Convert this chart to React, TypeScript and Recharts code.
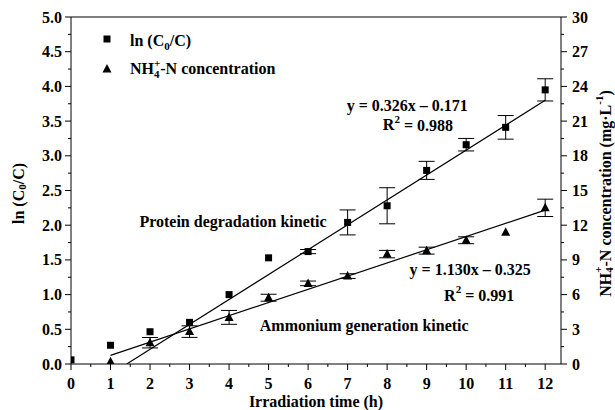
import React from 'react';
import {
  ComposedChart,
  XAxis,
  YAxis,
  Scatter,
  Line,
  ErrorBar,
  ReferenceLine,
  ReferenceDot,
  Legend,
} from 'recharts';

// ---------- data ----------
const timeH = [0, 1, 2, 3, 4, 5, 6, 7, 8, 9, 10, 11, 12];
const lnRatio = [0.06, 0.27, 0.465, 0.6, 1.0, 1.53, 1.62, 2.04, 2.28, 2.79, 3.16, 3.41, 3.95];
const lnRatioErr = [0, 0, 0, 0, 0, 0, 0.03, 0.18, 0.26, 0.13, 0.09, 0.17, 0.16];

const nh4Time = [1, 2, 3, 4, 5, 6, 7, 8, 9, 10, 11, 12];
const nh4Conc = [0.2, 1.84, 2.8, 4.03, 5.73, 6.97, 7.6, 9.5, 9.8, 10.7, 11.4, 13.5];
const nh4Err = [0, 0.45, 0.5, 0.6, 0.3, 0.2, 0.2, 0.32, 0.3, 0.3, 0, 0.75];

const proteinFitX = [1.41, 12];
const proteinFitY = [0, 3.8];
const ammoniumFitX = [1, 12];
const ammoniumFitY = [0.75, 13.3];

const xMajor = [0, 1, 2, 3, 4, 5, 6, 7, 8, 9, 10, 11, 12];
const leftMajor = [0, 0.5, 1, 1.5, 2, 2.5, 3, 3.5, 4, 4.5, 5];
const rightMajor = [0, 3, 6, 9, 12, 15, 18, 21, 24, 27, 30];

// annotations (data coordinates on left axis)
const annoX = [8.51, 8.78, 4.1, 7.42, 10.1, 10.33];
const annoY = [3.73, 3.45, 2.06, 0.56, 1.36, 0.99];

// ---------- derived tables ----------
const withMinor = (major: number[]) => {
  const out: number[] = [];
  major.forEach((v, i) => {
    out.push(v);
    if (i < major.length - 1) out.push((v + major[i + 1]) / 2);
  });
  return out;
};
const xTicks = withMinor(xMajor);
const leftTicks = withMinor(leftMajor);
const rightTicks = withMinor(rightMajor);

const lnData = timeH.map((x, i) => ({ x, y: lnRatio[i], err: lnRatioErr[i] }));
const nh4Data = nh4Time.map((x, i) => ({ x, y: nh4Conc[i], err: nh4Err[i] }));
const proteinFit = proteinFitX.map((x, i) => ({ x, y: proteinFitY[i] }));
const ammoniumFit = ammoniumFitX.map((x, i) => ({ x, y: ammoniumFitY[i] }));

const FONT = '"Liberation Serif", "Times New Roman", Times, serif';
const FS = 16;
const isMajor = (list: number[], v: number) => list.some((m) => Math.abs(m - v) < 1e-9);

// ---------- ticks ----------
const XTick = (p: any) => {
  const { x, y, payload } = p;
  const v = payload.value;
  const major = isMajor(xMajor, v);
  return (
    <g>
      <line x1={x} x2={x} y1={y} y2={y + (major ? 6 : 3)} stroke="#000" strokeWidth={1} />
      {major && (
        <text x={x} y={y + 19} textAnchor="middle" dominantBaseline="central" fontFamily={FONT} fontWeight="bold" fontSize={FS} fill="#000">
          {v}
        </text>
      )}
    </g>
  );
};

const LeftTick = (p: any) => {
  const { x, y, payload } = p;
  const v = payload.value;
  const major = isMajor(leftMajor, v);
  return (
    <g>
      <line x1={x} x2={x - (major ? 6 : 3)} y1={y} y2={y} stroke="#000" strokeWidth={1} />
      {major && (
        <text x={x - 9} y={y} textAnchor="end" dominantBaseline="central" fontFamily={FONT} fontWeight="bold" fontSize={FS} fill="#000">
          {v.toFixed(1)}
        </text>
      )}
    </g>
  );
};

const RightTick = (p: any) => {
  const { x, y, payload } = p;
  const v = payload.value;
  const major = isMajor(rightMajor, v);
  return (
    <g>
      <line x1={x} x2={x + (major ? 6 : 3)} y1={y} y2={y} stroke="#000" strokeWidth={1} />
      {major && (
        <text x={x + 11} y={y} textAnchor="start" dominantBaseline="central" fontFamily={FONT} fontWeight="bold" fontSize={FS} fill="#000">
          {v}
        </text>
      )}
    </g>
  );
};

// ---------- markers ----------
const SquareShape = (p: any) => {
  const { cx, cy } = p;
  if (cx == null || cy == null) return <g />;
  return <rect x={cx - 3.5} y={cy - 3.5} width={7} height={7} fill="#000" />;
};
const TriangleShape = (p: any) => {
  const { cx, cy } = p;
  if (cx == null || cy == null) return <g />;
  return <polygon points={`${cx},${cy - 5} ${cx - 4.5},${cy + 3.5} ${cx + 4.5},${cy + 3.5}`} fill="#000" />;
};

// ---------- labels ----------
const textProps = {
  fontFamily: FONT,
  fontWeight: 'bold' as const,
  fontSize: FS,
  fill: '#000',
};

const LeftAxisLabel = (p: any) => {
  const vb = p.viewBox || { x: 0, y: 17, width: 71, height: 347 };
  const cx = vb.x + 18;
  const cy = vb.y + vb.height / 2 + 3;
  return (
    <text {...textProps} x={cx} y={cy} textAnchor="middle" dominantBaseline="central" transform={`rotate(-90, ${cx}, ${cy})`}>
      ln (C<tspan dy={4} fontSize={11}>0</tspan>
      <tspan dy={-4}>/C)</tspan>
    </text>
  );
};

const RightAxisLabel = (p: any) => {
  const vb = p.viewBox || { x: 561, y: 17, width: 54, height: 347 };
  const cx = vb.x + 44;
  const cy = vb.y + vb.height / 2 + 3;
  return (
    <text {...textProps} x={cx} y={cy} textAnchor="middle" dominantBaseline="central" transform={`rotate(-90, ${cx}, ${cy})`}>
      NH<tspan dy={4} fontSize={11}>4</tspan>
      <tspan dx={-5.5} dy={-11} fontSize={11}>+</tspan>
      <tspan dy={7}>-N concentration (mg·L</tspan>
      <tspan dy={-6} fontSize={11}>-1</tspan>
      <tspan dy={6}>)</tspan>
    </text>
  );
};

const XAxisLabel = (p: any) => {
  const vb = p.viewBox || { x: 71, y: 364, width: 490, height: 46 };
  return (
    <text {...textProps} x={vb.x + vb.width / 2} y={vb.y + 37} textAnchor="middle" dominantBaseline="central">
      Irradiation time (h)
    </text>
  );
};

const annoContent: React.ReactNode[] = [
  <>y = 0.326x – 0.171</>,
  <>
    R<tspan dy={-6} fontSize={11}>2</tspan>
    <tspan dy={6}> = 0.988</tspan>
  </>,
  <>Protein degradation kinetic</>,
  <>Ammonium generation kinetic</>,
  <>y = 1.130x – 0.325</>,
  <>
    R<tspan dy={-6} fontSize={11}>2</tspan>
    <tspan dy={6}> = 0.991</tspan>
  </>,
];

const makeAnnoShape = (i: number) => (p: any) => (
  <text {...textProps} x={p.cx} y={p.cy} textAnchor="middle" dominantBaseline="central">
    {annoContent[i]}
  </text>
);

const LegendContent = () => (
  <svg width={230} height={56} style={{ display: 'block', overflow: 'visible' }}>
    <rect x={8.5} y={10.5} width={7} height={7} fill="#000" />
    <text {...textProps} x={35} y={21}>
      ln (C<tspan dy={4} fontSize={11}>0</tspan>
      <tspan dy={-4}>/C)</tspan>
    </text>
    <polygon points="12,39 7.5,47.5 16.5,47.5" fill="#000" />
    <text {...textProps} x={35} y={49}>
      NH<tspan dy={4} fontSize={11}>4</tspan>
      <tspan dx={-5.5} dy={-11} fontSize={11}>+</tspan>
      <tspan dy={7}>-N concentration</tspan>
    </text>
  </svg>
);

export default function App() {
  return (
    <div style={{ position: 'absolute', left: 0, top: 0, width: 615, height: 410, background: '#fff' }}>
      <ComposedChart width={615} height={410} margin={{ top: 17, right: 0, bottom: 0, left: 0 }}>
        <XAxis
          xAxisId="x"
          type="number"
          dataKey="x"
          domain={[0, 12.4]}
          ticks={xTicks}
          interval={0}
          allowDataOverflow
          height={46}
          tickSize={0}
          tickMargin={0}
          tick={<XTick />}
          axisLine={{ stroke: '#000', strokeWidth: 1 }}
          tickLine={false}
          label={{ content: <XAxisLabel /> } as any}
        />
        <YAxis
          yAxisId="left"
          orientation="left"
          type="number"
          domain={[0, 5]}
          ticks={leftTicks}
          interval={0}
          allowDataOverflow
          width={71}
          tickSize={0}
          tickMargin={0}
          tick={<LeftTick />}
          axisLine={{ stroke: '#000', strokeWidth: 1 }}
          tickLine={false}
          label={{ content: <LeftAxisLabel /> } as any}
        />
        <YAxis
          yAxisId="right"
          orientation="right"
          type="number"
          domain={[0, 30]}
          ticks={rightTicks}
          interval={0}
          allowDataOverflow
          width={54}
          tickSize={0}
          tickMargin={0}
          tick={<RightTick />}
          axisLine={{ stroke: '#000', strokeWidth: 1 }}
          tickLine={false}
          label={{ content: <RightAxisLabel /> } as any}
        />
        <ReferenceLine xAxisId="x" yAxisId="left" y={5} stroke="#000" strokeWidth={1} />

        <Line
          xAxisId="x"
          yAxisId="left"
          data={proteinFit}
          dataKey="y"
          type="linear"
          stroke="#000"
          strokeWidth={1.2}
          dot={false}
          activeDot={false}
          isAnimationActive={false}
          legendType="none"
        />
        <Line
          xAxisId="x"
          yAxisId="right"
          data={ammoniumFit}
          dataKey="y"
          type="linear"
          stroke="#000"
          strokeWidth={1.2}
          dot={false}
          activeDot={false}
          isAnimationActive={false}
          legendType="none"
        />

        <Scatter
          name="ln (C0/C)"
          xAxisId="x"
          yAxisId="left"
          data={lnData}
          dataKey="y"
          shape={<SquareShape />}
          isAnimationActive={false}
        >
          <ErrorBar dataKey="err" direction="y" width={8} stroke="#000" strokeWidth={1} isAnimationActive={false} />
        </Scatter>
        <Scatter
          name="NH4+-N concentration"
          xAxisId="x"
          yAxisId="right"
          data={nh4Data}
          dataKey="y"
          shape={<TriangleShape />}
          isAnimationActive={false}
        >
          <ErrorBar dataKey="err" direction="y" width={8} stroke="#000" strokeWidth={1} isAnimationActive={false} />
        </Scatter>

        {annoX.map((ax, i) => (
          <ReferenceDot
            key={i}
            xAxisId="x"
            yAxisId="left"
            x={ax}
            y={annoY[i]}
            r={0}
            shape={makeAnnoShape(i)}
          />
        ))}

        <Legend
          layout="horizontal"
          verticalAlign="middle"
          align="center"
          content={<LegendContent />}
          wrapperStyle={{ position: 'absolute', left: 95, top: 25, width: 230, height: 56 }}
        />
      </ComposedChart>
    </div>
  );
}
